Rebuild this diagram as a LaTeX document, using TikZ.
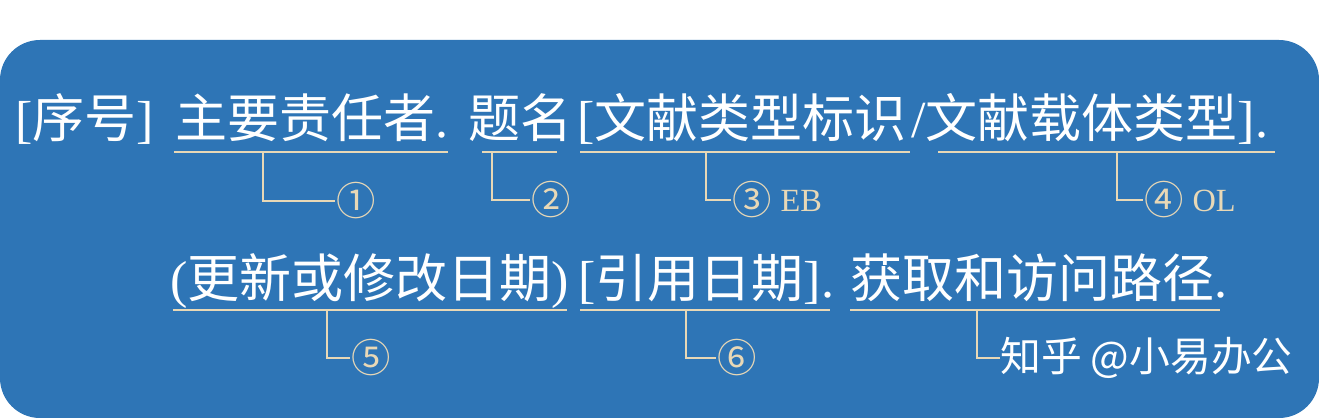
\documentclass[tikz,border=0pt]{standalone}
\usepackage{fontspec}
\setmainfont{Liberation Serif}
\newfontfamily\cjk{Noto Sans CJK SC}
\usepackage{tikz}
\usetikzlibrary{positioning, calc}
\definecolor{refBlue}{RGB}{46,117,182}
\definecolor{refSand}{RGB}{232,216,182}
\newcommand{\circNo}[1]{{\cjk\fontsize{28}{30}\selectfont #1}}
\newcommand{\typeCode}[1]{\hspace{6pt}\raisebox{0.12em}{#1}}
\tikzstyle{entryText}=[anchor=base west, inner sep=0pt, text=white,
  font=\fontsize{37}{40}\selectfont]
\tikzstyle{underLine}=[draw=refSand, line width=1.4pt]
\tikzstyle{callLine}=[draw=refSand, line width=1.2pt]
\tikzstyle{callLabel}=[anchor=west, inner sep=1pt, text=refSand,
  font=\fontsize{23}{25}\selectfont]
\tikzstyle{waterMark}=[anchor=west, inner sep=0pt, text=white,
  font=\cjk\fontsize{29}{31}\selectfont]

\begin{document}
\begin{tikzpicture}[x=0.025cm, y=-0.025cm]
      \useasboundingbox (0,0) rectangle (1319,418);
      \fill[refBlue, rounded corners=1cm] (0,40) rectangle (1319,418);

      % first line
      \node[entryText] (seqNo) at (15,138) {[{\cjk 序号}]};
      \node[entryText] (author) at (175,138) {{\cjk 主要责任者}.};
      \node[entryText] (title) at (468,138) {\cjk 题名};
      \node[entryText] (docType) at (577,138) {[{\cjk 文献类型标识}};
      \node[entryText] (carrier) at (911,138) {/{\cjk 文献载体类型}].};

      % second line
      \node[entryText] (update) at (170,298) {({\cjk 更新或修改日期})};
      \node[entryText] (citeDate) at (578,298) {[{\cjk 引用日期}].};
      \node[entryText] (access) at (850,298) {{\cjk 获取和访问路径}.};

      \foreach \a/\b in {174/448, 482/557, 580/910, 938/1275}
      \draw[underLine] (\a,152) -- (\b,152);
      \foreach \a/\b in {173/567, 580/830, 850/1220}
      \draw[underLine] (\a,310) -- (\b,310);

      % call-outs
      \coordinate (tick1) at (263,152);
      \coordinate (tick2) at (492,152);
      \coordinate (tick3) at (706,152);
      \coordinate (tick4) at (1117,152);
      \coordinate (tick5) at (327,310);
      \coordinate (tick6) at (686,310);
      \coordinate (tick7) at (977,310);

      \node[callLabel] (mark1) at (335,201) {\circNo{①}};
      \node[callLabel] (mark2) at (530,200) {\circNo{②}};
      \node[callLabel] (mark3) at (731,200) {\circNo{③}\typeCode{EB}};
      \node[callLabel] (mark4) at (1143,200) {\circNo{④}\typeCode{OL}};
      \node[callLabel] (mark5) at (350,358) {\circNo{⑤}};
      \node[callLabel] (mark6) at (716,358) {\circNo{⑥}};
      \node[waterMark] (mark7) at (1000,358) {知乎 @小易办公};

      \foreach \p in {1,...,7}
      \draw[callLine] (tick\p) |- (mark\p.west);
\end{tikzpicture}
\end{document}
